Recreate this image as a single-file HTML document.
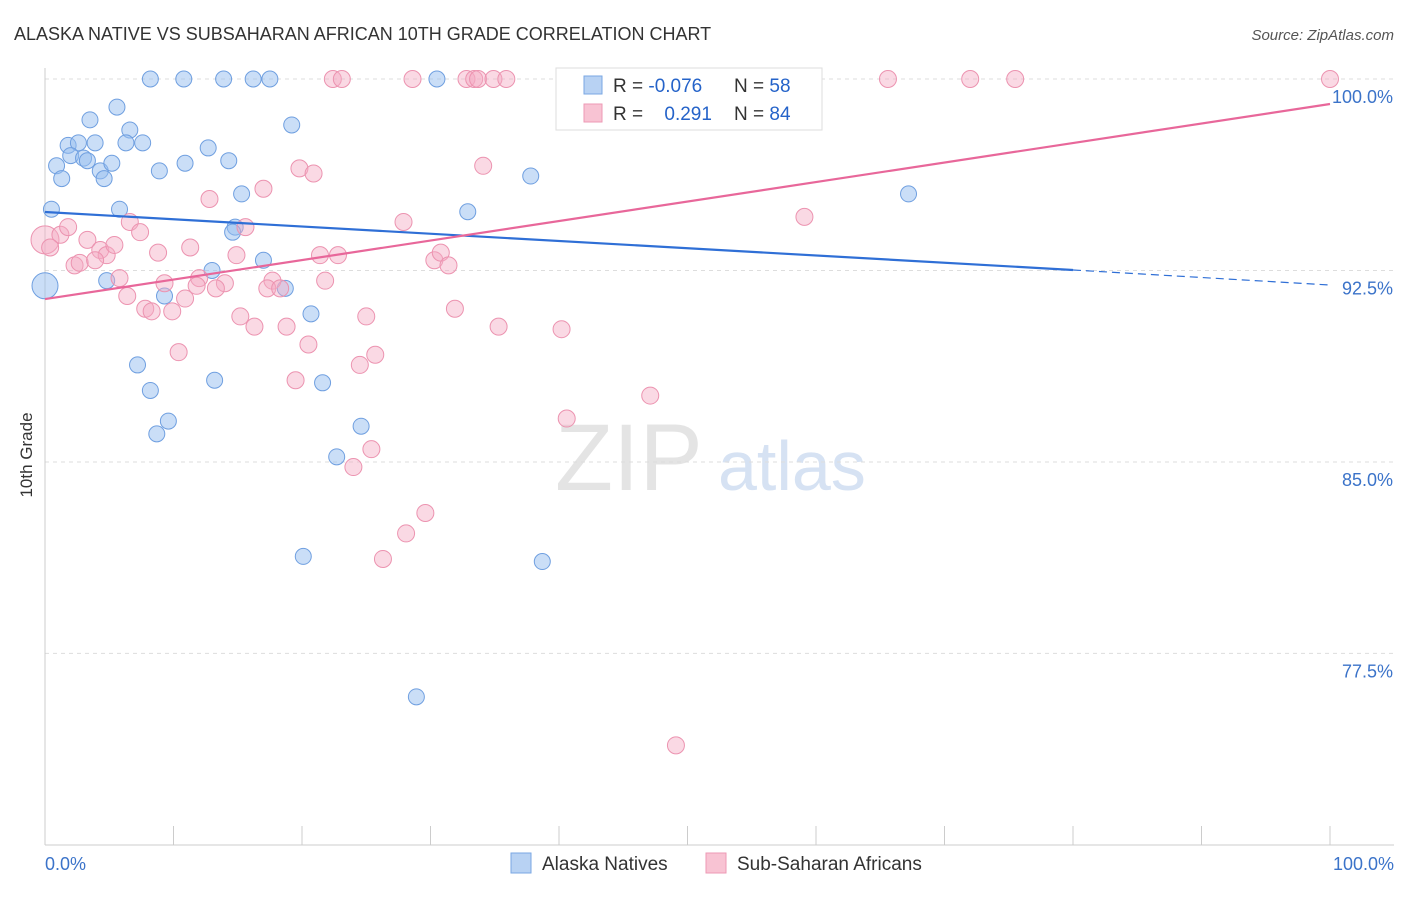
<!DOCTYPE html>
<html><head><meta charset="utf-8"><style>
body{margin:0;background:#fff;font-family:"Liberation Sans",sans-serif;}
svg text{font-family:"Liberation Sans",sans-serif;}
</style></head><body>
<svg id="chart" width="1406" height="892" xmlns="http://www.w3.org/2000/svg">
<text x="14" y="40" font-size="18" fill="#333">ALASKA NATIVE VS SUBSAHARAN AFRICAN 10TH GRADE CORRELATION CHART</text>
<text x="1394" y="40" font-size="15" fill="#555" text-anchor="end" font-style="italic">Source: ZipAtlas.com</text>
<text x="32" y="455" font-size="17" fill="#333" transform="rotate(-90 32 455)" text-anchor="middle">10th Grade</text>
<text x="555" y="490" font-size="95" fill="#e4e4e4" font-family="Liberation Serif">ZIP</text>
<text x="718" y="490" font-size="70" fill="#d6e2f3">atlas</text>
<g id="grid"></g><g id="axes"></g><g id="pts"></g><g id="lines"></g>
<g>
<rect x="556" y="68" width="266" height="62" fill="#fff" stroke="#ddd"/>
<rect x="584" y="76" width="18" height="18" fill="#b8d2f3" stroke="#7aa7e3"/>
<rect x="584" y="104" width="18" height="18" fill="#f8c3d3" stroke="#ee9ab5"/>
<text x="613" y="92" font-size="19" fill="#333">R = <tspan fill="#2563c9">-0.076</tspan></text>
<text x="734" y="92" font-size="19" fill="#333">N = <tspan fill="#2563c9">58</tspan></text>
<text x="613" y="120" font-size="19" fill="#333">R = <tspan fill="#2563c9" dx="16">0.291</tspan></text>
<text x="734" y="120" font-size="19" fill="#333">N = <tspan fill="#2563c9">84</tspan></text>
</g>
<g>
<rect x="511" y="853" width="20" height="20" fill="#b8d2f3" stroke="#7aa7e3"/>
<text x="542" y="870" font-size="19" fill="#333">Alaska Natives</text>
<rect x="706" y="853" width="20" height="20" fill="#f8c3d3" stroke="#ee9ab5"/>
<text x="737" y="870" font-size="19" fill="#333">Sub-Saharan Africans</text>
</g>
</svg>
<script>
const yTicks=[100,92.5,85,77.5];
const yTickLabels=["100.0%","92.5%","85.0%","77.5%"];
const xTickLabels=["0.0%","100.0%"];
const blueX=[8.2,10.8,13.9,16.2,17.5,30.5,41.4,44.5,3.5,5.6,6.6,1.8,2.6,3.9,6.3,7.6,2.0,3.0,3.3,0.9,1.3,4.3,4.6,5.2,8.9,10.9,12.7,14.3,19.2,15.3,37.8,32.9,67.2,0.5,5.8,14.8,14.6,17.0,13.0,4.8,18.7,9.3,20.7,0,7.2,8.2,13.2,21.6,9.6,8.7,24.6,22.7,20.1,38.7,28.9];
const blueY=[100,100,100,100,100,100,100,100,98.4,98.9,98.0,97.4,97.5,97.5,97.5,97.5,97.0,96.9,96.8,96.6,96.1,96.4,96.1,96.7,96.4,96.7,97.3,96.8,98.2,95.5,96.2,94.8,95.5,94.9,94.9,94.2,94.0,92.9,92.5,92.1,91.8,91.5,90.8,91.9,88.8,87.8,88.2,88.1,86.6,86.1,86.4,85.2,81.3,81.1,75.8];
const pinkX=[22.4,23.1,28.6,32.8,33.4,33.7,34.9,35.9,52.3,65.6,72.0,75.5,100,41.6,43.0,55.6,34.1,19.8,20.9,17.0,12.8,27.9,59.1,0,1.2,1.8,0.4,2.3,3.3,4.3,4.8,5.4,2.7,3.9,6.6,7.4,8.8,11.3,15.6,14.9,5.8,9.3,12.0,14.0,6.4,10.9,7.8,8.3,9.9,11.8,13.3,17.7,17.3,18.3,15.2,16.3,21.8,21.4,22.8,30.3,30.8,31.4,18.8,25.0,31.9,35.3,40.2,20.5,10.4,25.7,24.5,19.5,47.1,40.6,25.4,24.0,29.6,28.1,26.3,49.1];
const pinkY=[100,100,100,100,100,100,100,100,100,100,100,100,100,99.2,98.7,99.0,96.6,96.5,96.3,95.7,95.3,94.4,94.6,93.7,93.9,94.2,93.4,92.7,93.7,93.3,93.1,93.5,92.8,92.9,94.4,94.0,93.2,93.4,94.2,93.1,92.2,92.0,92.2,92.0,91.5,91.4,91.0,90.9,90.9,91.9,91.8,92.1,91.8,91.8,90.7,90.3,92.1,93.1,93.1,92.9,93.2,92.7,90.3,90.7,91.0,90.3,90.2,89.6,89.3,89.2,88.8,88.2,87.6,86.7,85.5,84.8,83.0,82.2,81.2,73.9];
const blueTrend=[94.79,92.52,91.93]; // at x=0, x=80, x=100
const pinkTrend=[91.38,99.02]; // at x=0, x=100
const NS="http://www.w3.org/2000/svg";
const X=v=>45+v*12.85, Y=v=>79+(100-v)*25.53;
function mk(tag,attrs,parent){const e=document.createElementNS(NS,tag);for(const k in attrs)e.setAttribute(k,attrs[k]);document.getElementById(parent).appendChild(e);return e;}
yTicks.forEach((t,i)=>{
 const l=mk('line',{x1:45,x2:1394,y1:Y(t),y2:Y(t),stroke:'#ddd','stroke-dasharray':'4,4'},'grid');
 
 
 const tx=mk('text',{x:1393,y:Y(t)+24,'font-size':18,fill:'#3b73c9','text-anchor':'end'},'grid');
 tx.textContent=yTickLabels[i];
 
 
});
const ax=mk('line',{x1:45,x2:45,y1:68,y2:845,stroke:'#ccc'},'axes');


const bx=mk('line',{x1:45,x2:1394,y1:845,y2:845,stroke:'#ccc'},'axes');


for(let i=0;i<=10;i++){
 const t=mk('line',{x1:X(i*10),x2:X(i*10),y1:826,y2:845,stroke:'#ccc'},'axes');
 
 
}
[[0,'start',45],[100,'end',1394]].forEach((d,i)=>{
 const t=mk('text',{x:d[2],y:870,'font-size':18,fill:'#3b73c9','text-anchor':d[1]},'axes');
 t.textContent=xTickLabels[i];
 
 
});
blueX.forEach((x,i)=>{
 const r=x===0?13:8;
 const c=mk('circle',{cx:X(x),cy:Y(blueY[i]),r:r,fill:'rgba(150,190,240,0.5)',stroke:'#6f9fe0','stroke-width':1},'pts');
 
 
});
pinkX.forEach((x,i)=>{
 const r=x===0?14:8.5;
 const c=mk('circle',{cx:X(x),cy:Y(pinkY[i]),r:r,fill:'rgba(245,170,195,0.45)',stroke:'#ec93b0','stroke-width':1},'pts');
 
 
});
const b1=mk('line',{x1:X(0),y1:Y(blueTrend[0]),x2:X(80),y2:Y(blueTrend[1]),stroke:'#2f6fd6','stroke-width':2.2},'lines');


const b2=mk('line',{x1:X(80),y1:Y(blueTrend[1]),x2:X(100),y2:Y(blueTrend[2]),stroke:'#2f6fd6','stroke-width':1.2,'stroke-dasharray':'8,5'},'lines');


const p1=mk('line',{x1:X(0),y1:Y(pinkTrend[0]),x2:X(100),y2:Y(pinkTrend[1]),stroke:'#e8679a','stroke-width':2.2},'lines');


</script>
</body></html>
